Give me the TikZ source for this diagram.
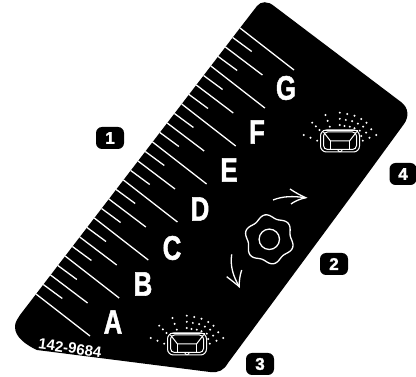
\documentclass[tikz,border=0pt]{standalone}
\usepackage{fontspec}
\setmainfont{Liberation Sans}
\newfontfamily\fatfont[FakeBold=1.6]{Liberation Sans Bold}
\usetikzlibrary{calc}
\tikzset{
  letterlabel/.style={text=white,font=\fontsize{34}{34}\selectfont\fatfont,xscale=.76,inner sep=0pt},
  badge/.style={fill=black,rounded corners=6pt,minimum width=28pt,minimum height=22pt,inner sep=0pt,text=white,font=\fontsize{17}{17}\selectfont\fatfont},
  whiteline/.style={white,line width=1.3pt},
  lampline/.style={white,line width=1pt},
  lamp/.pic={
    \draw[lampline,rounded corners=6pt] (-19,-10) rectangle (20,12);
    \draw[lampline,rounded corners=4pt] (-16,-8) rectangle (17,9.5);
    \draw[lampline,line width=1.6pt] (-17,-9.5) -- (18,-9.5);
    \draw[lampline] (-16,-8) -- (-9,1) -- (10,1) -- (17,-8);
    \draw[lampline] (-9,1) -- (-9,9.5) (10,1) -- (10,9.5);
    \draw[lampline] (-1.7,9.5) arc[start angle=180,end angle=0,radius=2.2];
    \foreach \ax/\ay/\bx/\by in {-35.7/-5/-22.3/0.7,-27.3/-17.3/-20/-10,-14/-25/-9.7/-13.3,0.3/-27.3/0.3/-15,7.7/-26/5/-14,15/-24.3/10.3/-13.3,21.7/-21/15/-11.7,27/-17.3/20.3/-9.3,31.7/-10.7/21.7/-4,36.7/-5/23.3/.7}{
      \fill[white] (\ax,\ay) circle[radius=1.1] ($(\ax,\ay)!.5!(\bx,\by)$) circle[radius=1.1] (\bx,\by) circle[radius=1.1];
    }
  }
}
\begin{document}
\begin{tikzpicture}[x=1pt,y=-1pt]
\useasboundingbox (0,0) rectangle (416,377);
\fill[black] (240,28) -- (257,6) .. controls (261,1) and (268,1) .. (274,6)
  -- (401,102) .. controls (409,108) and (409,117) .. (404,124)
  -- (350,198) -- (228,363) .. controls (224,370) and (219,373) .. (210,372)
  -- (37,350) .. controls (26,345) and (15,337) .. (15,327)
  .. controls (15,322) and (17,320) .. (20,315) -- cycle;
\foreach \i in {0,...,28}{
  \pgfmathsetmacro{\sx}{36+7.286*\i}
  \pgfmathsetmacro{\sy}{294-9.5*\i}
  \pgfmathtruncatemacro{\m}{mod(\i,4)}
  \ifcase\m\relax \def\vx{54}\def\vy{42}\or \def\vx{19}\def\vy{14}\or \def\vx{37}\def\vy{28}\or \def\vx{19}\def\vy{14}\fi
  \draw[whiteline] (\sx,\sy) -- ++(\vx,\vy);
}
\node[letterlabel] (la) at (113,322) {A};
\node[letterlabel] (lb) at (143,284) {B};
\node[letterlabel] (lc) at (172,248) {C};
\node[letterlabel] (ld) at (200,209) {D};
\node[letterlabel] (le) at (229,170) {E};
\node[letterlabel] (lf) at (257,132) {F};
\node[letterlabel] (lg) at (286,88) {G};
\node[text=white,font=\fontsize{15}{15}\selectfont\bfseries,rotate=-8,inner sep=0pt] (code) at (70,348) {142-9684};
\node[badge] (b1) at (110,138) {1};
\node[badge] (b2) at (334,264) {2};
\node[badge] (b3) at (260,364) {3};
\node[badge,minimum width=27pt] (b4) at (403,174) {4};
\pic at (186.5,343) {lamp};
\pic at (339.5,140) {lamp};
\begin{scope}[shift={(269.3,239.3)}]
\draw[whiteline] plot[smooth cycle,samples=72,domain=0:355] (-\x:{23+1.8*cos(6*(\x-40))});
\draw[whiteline] (0,0) circle[radius=10.2];
\end{scope}
\draw[whiteline] (273,200) .. controls (283,196) and (293,196) .. (305.7,197.7);
\draw[whiteline] (290,189) .. controls (296,193) and (300,195) .. (305.7,197.7) .. controls (300,199) and (295,201) .. (291,204);
\draw[whiteline] (231.7,254.3) .. controls (230,266) and (233,276) .. (239.3,286.7);
\draw[whiteline] (226.7,276.7) .. controls (231,280) and (235,283) .. (239.3,286.7) .. controls (239,281) and (240,275) .. (241.7,270);
\end{tikzpicture}
\end{document}
